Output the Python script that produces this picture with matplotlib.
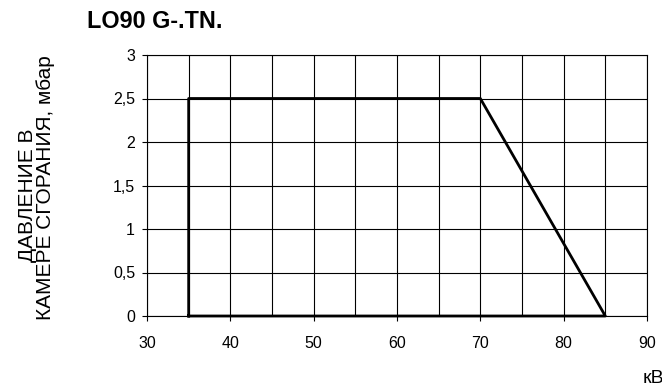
import matplotlib.pyplot as plt
import numpy as np

plt.rcParams['font.family'] = ['Liberation Sans', 'DejaVu Sans']

# working field outline (kW, mbar)
power_kw = [35, 35, 70, 85, 35]
pressure_mbar = [0, 2.5, 2.5, 0, 0]

x_ticks = [30, 40, 50, 60, 70, 80, 90]
y_ticks = [0, 0.5, 1, 1.5, 2, 2.5, 3]
y_labels = ['0', '0,5', '1', '1,5', '2', '2,5', '3']

W, H = 662, 392
fig = plt.figure(figsize=(W / 100, H / 100), dpi=100)
ax = fig.add_axes([147 / W, 1 - 316 / H, (647 - 147) / W, (316 - 55) / H])

ax.plot(power_kw, pressure_mbar, color='black', linewidth=2.0, clip_on=False, zorder=3)

ax.set_xlim(30, 90)
ax.set_ylim(0, 3)
ax.set_xticks(x_ticks)
ax.set_xticks(np.arange(30, 91, 5), minor=True)
ax.set_yticks(y_ticks)
ax.set_yticklabels(y_labels)
ax.grid(True, which='both', color='black', linewidth=0.8)
ax.tick_params(which='major', direction='out', length=3.6, width=0.8, labelsize=11.5, pad=5)
ax.tick_params(axis='x', which='major', pad=11)
ax.tick_params(which='minor', length=0)
for s in ax.spines.values():
    s.set_linewidth(0.8)

fig.text(87 / W, 1 - 28 / H, 'LO90 G-.TN.', fontsize=16.8, fontweight='bold',
         ha='left', va='baseline')
fig.text(33 / W, 1 - 195 / H, 'ДАВЛЕНИЕ В', fontsize=15, rotation=90,
         rotation_mode='anchor', ha='center', va='baseline')
fig.text(51 / W, 1 - 188 / H, 'КАМЕРЕ СГОРАНИЯ, мбар', fontsize=15, rotation=90,
         rotation_mode='anchor', ha='center', va='baseline')
fig.text(643 / W, 1 - 383 / H, 'кВт', fontsize=14, ha='left', va='baseline')

fig.savefig('out.png', dpi=100)
